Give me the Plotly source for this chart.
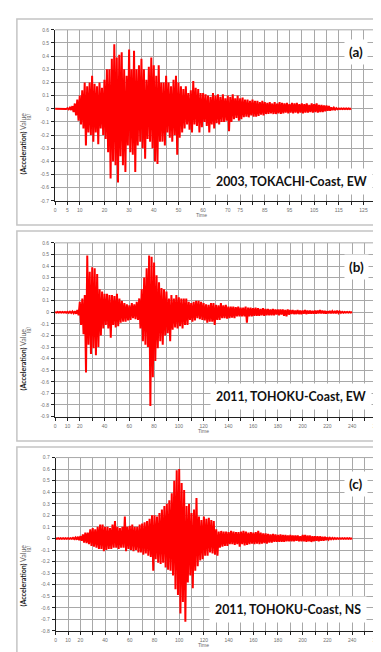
import plotly.graph_objects as go

W, H = 381, 652

# ---------------- data (accelerations in g) ----------------
# (a) 2003 Tokachi-oki, EW : one value every 0.5 s from 0 to 120 s
STEP_A = 0.5
ACC_A = [
    0, 0, 0, 0, 0, 0, 0, 0, 0.002, -0.002, 0.004, -0.004, 0.008, -0.01, 0.02, -0.025, 0.04, -0.05, 0.07, -0.09,
    0.1, -0.12, 0.14, -0.15, 0.2, -0.28, 0.17, -0.18, 0.2, -0.2, 0.25, -0.25, 0.19, -0.18, 0.17, -0.27, 0.2, -0.15, 0.16, -0.2,
    0.22, -0.23, 0.3, -0.33, 0.3, -0.53, 0.38, -0.4, 0.49, -0.43, 0.39, -0.56, 0.41, -0.36, 0.43, -0.43, 0.3, -0.48, 0.25, -0.28,
    0.45, -0.33, 0.3, -0.35, 0.44, -0.48, 0.3, -0.28, 0.33, -0.25, 0.38, -0.3, 0.3, -0.38, 0.22, -0.23, 0.32, -0.25, 0.39, -0.3,
    0.33, -0.4, 0.25, -0.42, 0.33, -0.25, 0.2, -0.25, 0.2, -0.28, 0.25, -0.18, 0.2, -0.22, 0.17, -0.25, 0.22, -0.2, 0.25, -0.35,
    0.2, -0.22, 0.17, -0.18, 0.15, -0.15, 0.17, -0.12, 0.12, -0.16, 0.14, -0.18, 0.21, -0.12, 0.16, -0.13, 0.15, -0.18, 0.12, -0.14,
    0.12, -0.1, 0.11, -0.13, 0.1, -0.18, 0.09, -0.12, 0.12, -0.15, 0.1, -0.11, 0.11, -0.12, 0.09, -0.1, 0.11, -0.1, 0.08, -0.09,
    0.1, -0.17, 0.09, -0.1, 0.11, -0.08, 0.08, -0.07, 0.1, -0.09, 0.08, -0.08, 0.085, -0.065, 0.07, -0.06, 0.07, -0.065, 0.06, -0.05,
    0.07, -0.06, 0.06, -0.06, 0.06, -0.055, 0.05, -0.045, 0.06, -0.05, 0.05, -0.04, 0.045, -0.04, 0.05, -0.035, 0.04, -0.04, 0.05, -0.04,
    0.04, -0.035, 0.05, -0.04, 0.045, -0.035, 0.04, -0.03, 0.045, -0.035, 0.035, -0.03, 0.045, -0.035, 0.04, -0.03, 0.045, -0.035, 0.035, -0.03,
    0.04, -0.035, 0.035, -0.03, 0.04, -0.03, 0.03, -0.025, 0.04, -0.03, 0.035, -0.025, 0.04, -0.03, 0.03, -0.025, 0.03, -0.025, 0.025, -0.02,
    0.025, -0.015, 0.02, -0.015, 0.01, -0.01, 0.008, -0.006, 0.004, -0.004, 0.003, -0.003, 0.003, -0.003, 0.003, -0.003, 0.003, -0.003, 0.003, -0.003,
    0.003,
]

# (b) 2011 Tohoku, EW : one value every 1 s from 0 to 240 s
STEP_B = 1.0
ACC_B = [
    0.003, -0.003, 0.003, -0.003, 0.003, -0.003, 0.003, -0.003, 0.004, -0.004, 0.005, -0.005, 0.006, -0.006, 0.008, -0.008, 0.01, -0.012, 0.02, -0.025,
    0.09, -0.11, 0.12, -0.19, 0.15, -0.52, 0.49, -0.28, 0.35, -0.36, 0.39, -0.31, 0.38, -0.37, 0.33, -0.3, 0.2, -0.2, 0.18, -0.14,
    0.16, -0.11, 0.16, -0.14, 0.15, -0.22, 0.15, -0.11, 0.14, -0.13, 0.16, -0.12, 0.12, -0.09, 0.1, -0.08, 0.08, -0.08, 0.07, -0.07,
    0.06, -0.065, 0.08, -0.05, 0.07, -0.06, 0.09, -0.065, 0.12, -0.14, 0.2, -0.25, 0.3, -0.28, 0.38, -0.3, 0.49, -0.81, 0.48, -0.56,
    0.43, -0.42, 0.32, -0.31, 0.26, -0.25, 0.21, -0.28, 0.2, -0.2, 0.18, -0.18, 0.12, -0.25, 0.15, -0.15, 0.12, -0.13, 0.15, -0.14,
    0.13, -0.12, 0.12, -0.14, 0.12, -0.11, 0.12, -0.11, 0.09, -0.065, 0.08, -0.08, 0.09, -0.07, 0.1, -0.05, 0.1, -0.06, 0.09, -0.065,
    0.08, -0.07, 0.07, -0.09, 0.065, -0.08, 0.08, -0.08, 0.08, -0.11, 0.065, -0.065, 0.06, -0.065, 0.08, -0.05, 0.06, -0.05, 0.065, -0.055,
    0.05, -0.05, 0.05, -0.045, 0.05, -0.05, 0.045, -0.035, 0.05, -0.035, 0.04, -0.035, 0.04, -0.035, 0.05, -0.09, 0.04, -0.035, 0.04, -0.035,
    0.035, -0.03, 0.04, -0.03, 0.035, -0.03, 0.03, -0.025, 0.035, -0.03, 0.03, -0.025, 0.03, -0.025, 0.025, -0.025, 0.03, -0.025, 0.025, -0.02,
    0.025, -0.025, 0.025, -0.02, 0.025, -0.03, 0.02, -0.035, 0.025, -0.02, 0.02, -0.015, 0.02, -0.015, 0.015, -0.015, 0.02, -0.015, 0.015, -0.015,
    0.015, -0.012, 0.02, -0.015, 0.015, -0.012, 0.015, -0.012, 0.012, -0.012, 0.015, -0.012, 0.015, -0.01, 0.02, -0.01, 0.015, -0.01, 0.012, -0.01,
    0.01, -0.008, 0.012, -0.008, 0.01, -0.008, 0.012, -0.008, 0.015, -0.006, 0.008, -0.005, 0.005, -0.004, 0.004, -0.003, 0.003, -0.003, 0.003, -0.003,
    0.003,
]

# (c) 2011 Tohoku, NS : one value every 1 s from 0 to 240 s
STEP_C = 1.0
ACC_C = [
    0.003, -0.003, 0.003, -0.003, 0.003, -0.003, 0.003, -0.003, 0.003, -0.003, 0.003, -0.003, 0.003, -0.003, 0.005, -0.005, 0.008, -0.01, 0.015, -0.015,
    0.02, -0.02, 0.035, -0.035, 0.05, -0.04, 0.05, -0.05, 0.08, -0.065, 0.09, -0.07, 0.08, -0.08, 0.1, -0.09, 0.12, -0.09, 0.12, -0.11,
    0.1, -0.1, 0.1, -0.09, 0.09, -0.09, 0.12, -0.08, 0.15, -0.08, 0.1, -0.09, 0.09, -0.08, 0.1, -0.08, 0.19, -0.11, 0.1, -0.09,
    0.11, -0.1, 0.12, -0.11, 0.1, -0.1, 0.1, -0.12, 0.12, -0.12, 0.13, -0.14, 0.14, -0.13, 0.15, -0.15, 0.17, -0.16, 0.2, -0.28,
    0.2, -0.18, 0.19, -0.21, 0.22, -0.22, 0.25, -0.21, 0.28, -0.25, 0.3, -0.27, 0.33, -0.28, 0.39, -0.32, 0.5, -0.44, 0.59, -0.49,
    0.6, -0.65, 0.48, -0.55, 0.42, -0.72, 0.28, -0.38, 0.3, -0.32, 0.22, -0.43, 0.25, -0.28, 0.35, -0.24, 0.19, -0.19, 0.16, -0.18,
    0.19, -0.15, 0.17, -0.15, 0.18, -0.12, 0.16, -0.13, 0.15, -0.14, 0.08, -0.15, 0.06, -0.08, 0.065, -0.07, 0.06, -0.065, 0.06, -0.065,
    0.055, -0.05, 0.065, -0.05, 0.06, -0.055, 0.055, -0.05, 0.055, -0.07, 0.06, -0.05, 0.065, -0.06, 0.06, -0.055, 0.05, -0.05, 0.055, -0.045,
    0.05, -0.05, 0.055, -0.045, 0.065, -0.05, 0.05, -0.045, 0.045, -0.04, 0.045, -0.045, 0.04, -0.035, 0.035, -0.035, 0.04, -0.03, 0.035, -0.03,
    0.03, -0.03, 0.035, -0.03, 0.03, -0.03, 0.03, -0.025, 0.025, -0.025, 0.03, -0.025, 0.025, -0.025, 0.025, -0.02, 0.025, -0.025, 0.02, -0.025,
    0.03, -0.025, 0.03, -0.03, 0.025, -0.025, 0.025, -0.03, 0.02, -0.025, 0.02, -0.02, 0.02, -0.025, 0.018, -0.02, 0.015, -0.02, 0.015, -0.015,
    0.01, -0.01, 0.006, -0.006, 0.005, -0.005, 0.004, -0.004, 0.003, -0.003, 0.003, -0.003, 0.003, -0.003, 0.003, -0.003, 0.003, -0.003, 0.003, -0.003,
    0.003,
]

# tick labels
XLABELS_A = ["0", "5", "10", "20", "30", "40", "50", "60", "70", "75", "85", "95", "105", "115", "125"]
XLABELS_BC = ["0", "10", "20", "40", "60", "80", "100", "120", "140", "160", "180", "200", "220", "240", "260"]
YLABELS_A = ["0.6", "0.5", "0.4", "0.3", "0.2", "0.1", "0", "-0.1", "-0.2", "-0.3", "-0.4", "-0.5", "-0.6", "-0.7"]
YLABELS_B = ["0.6", "0.5", "0.4", "0.3", "0.2", "0.1", "0", "-0.1", "-0.2", "-0.3", "-0.4", "-0.5", "-0.6", "-0.7", "-0.8", "-0.9"]
YLABELS_C = ["0.7", "0.6", "0.5", "0.4", "0.3", "0.2", "0.1", "0", "-0.1", "-0.2", "-0.3", "-0.4", "-0.5", "-0.6", "-0.7", "-0.8"]
CAPTIONS = ["2003, TOKACHI-Coast, EW", "2011, TOHOKU-Coast, EW", "2011, TOHOKU-Coast, NS"]
PANEL_TAGS = ["(a)", "(b)", "(c)"]


def px(x):
    return x / W


def py(y):
    return 1 - y / H


# plot areas in pixels: (left, right, top, bottom)
AREAS = [(46.7, 371.7, 19.0, 191.6), (46.7, 372.7, 234.0, 409.3), (47.3, 372.7, 450.7, 625.7)]
XMAX = [130, 260, 260]
XSTEP = [5, 10, 10]
YRANGES = [(-0.7, 0.6), (-0.9, 0.6), (-0.8, 0.7)]
series = [(ACC_A, STEP_A), (ACC_B, STEP_B), (ACC_C, STEP_C)]
xlabels = [XLABELS_A, XLABELS_BC, XLABELS_BC]
ylabels = [YLABELS_A, YLABELS_B, YLABELS_C]

fig = go.Figure()
tickfont = dict(family="Liberation Sans", size=5, color="#707070")
layout = dict(
    width=W, height=H, margin=dict(l=0, r=0, t=0, b=0),
    paper_bgcolor="white", plot_bgcolor="white", showlegend=False,
)
shapes = []
annotations = []

for i in range(3):
    vals, step = series[i]
    xs = [k * step for k in range(len(vals))]
    sfx = "" if i == 0 else str(i + 1)
    fig.add_trace(go.Scatter(x=xs, y=vals, mode="lines", line=dict(color="#ff0000", width=2.0),
                             fill="tozeroy", fillcolor="#ff0000",
                             xaxis="x" + sfx, yaxis="y" + sfx, hoverinfo="skip"))
    l, r, t, b = AREAS[i]
    xt = list(range(0, XMAX[i] + 1, XSTEP[i]))
    xtext = [str(v) if str(v) in xlabels[i] else "" for v in xt]
    yt = [float(s) for s in ylabels[i]]
    common = dict(showgrid=True, gridcolor="#a8a8a8", gridwidth=1, zeroline=False,
                  showline=True, linecolor="#202020", linewidth=1, ticks="outside",
                  ticklen=3, tickcolor="#202020", tickwidth=1, tickfont=tickfont)
    layout["xaxis" + sfx] = dict(common, domain=[px(l), px(r)], range=[0, XMAX[i]],
                                 tickmode="array", tickvals=xt, ticktext=xtext,
                                 anchor="y" + sfx, ticklabelstandoff=1)
    layout["yaxis" + sfx] = dict(common, domain=[py(b), py(t)], range=list(YRANGES[i]),
                                 tickmode="array", tickvals=yt, ticktext=ylabels[i],
                                 anchor="x" + sfx, ticklabelstandoff=1)
    # top & right border of plot area
    shapes.append(dict(type="line", xref="paper", yref="paper", x0=px(l), x1=px(r), y0=py(t), y1=py(t),
                       line=dict(color="#a8a8a8", width=1)))
    shapes.append(dict(type="line", xref="paper", yref="paper", x0=px(r), x1=px(r), y0=py(t), y1=py(b),
                       line=dict(color="#a8a8a8", width=1)))

# outer frames
FRAMES = [(8, 8, 216), (8, 222, 434), (8, 440, 650)]
for fx, fy0, fy1 in FRAMES:
    shapes.append(dict(type="rect", xref="paper", yref="paper", x0=px(fx), x1=px(392), y0=py(fy1), y1=py(fy0),
                       line=dict(color="#c4c4c4", width=1.5), fillcolor="rgba(0,0,0,0)", layer="below"))

CAP_POS = [(286, 172.5), (286, 389), (283, 604)]
TAG_POS = [(352, 41), (352, 258.5), (352, 477)]
YT_TOP = [100, 318, 536]
G_POS = [(19.5, 107), (19.5, 322), (19.5, 543)]
TIME_POS = [(195, 205.7), (197, 424), (197, 640)]
for i in range(3):
    cx, cy = CAP_POS[i]
    annotations.append(dict(xref="paper", yref="paper", x=px(cx), y=py(cy), text="<b>" + CAPTIONS[i] + "</b>",
                            showarrow=False, font=dict(family="Lato", size=12.3, color="#111"),
                            bgcolor="white", borderpad=5, xanchor="center", yanchor="middle"))
    tx, ty = TAG_POS[i]
    annotations.append(dict(xref="paper", yref="paper", x=px(tx), y=py(ty), text="<b>" + PANEL_TAGS[i] + "</b>",
                            showarrow=False, font=dict(family="Lato", size=13.5, color="#111"),
                            bgcolor="white", borderpad=4, xanchor="center", yanchor="middle"))
    annotations.append(dict(xref="paper", yref="paper", x=px(14.5), y=py(YT_TOP[i]),
                            text="<b>(Acceleration)</b> <span style='color:#666'>Value</span>",
                            textangle=-90, showarrow=False, font=dict(family="Lato", size=7, color="#222"),
                            xanchor="center", yanchor="top"))
    gx, gy = G_POS[i]
    annotations.append(dict(xref="paper", yref="paper", x=px(gx), y=py(gy), text="(g)", textangle=-90,
                            showarrow=False, font=dict(family="Liberation Sans", size=5, color="#666"),
                            xanchor="center", yanchor="middle"))
    mx, my = TIME_POS[i]
    annotations.append(dict(xref="paper", yref="paper", x=px(mx), y=py(my), text="Time",
                            showarrow=False, font=dict(family="Liberation Sans", size=5, color="#666"),
                            xanchor="center", yanchor="middle"))

layout["shapes"] = shapes
layout["annotations"] = annotations
fig.update_layout(**layout)
fig.write_html("out.html")
